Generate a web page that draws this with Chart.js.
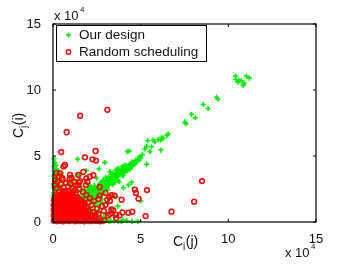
<!DOCTYPE html>
<html>
<head>
<meta charset="utf-8">
<script src="https://cdn.jsdelivr.net/npm/chart.js@4"></script>
<style>
  html, body { margin: 0; padding: 0; background: #fff; }
  #wrap { width: 341px; height: 266px; }
</style>
</head>
<body>
<div id="wrap"><canvas id="myChart" width="341" height="266"></canvas></div>
<script>
'use strict';

// values in units of 10^4
const seriesNames = [ 'Our design', 'Random scheduling' ];
const xTicks = [ 0, 5, 10, 15 ];
const yTicks = [ 0, 5, 10, 15 ];

const ourDesign = [
  [10.41,11.06],[11.03,11.06],[11.2,10.9],[10.43,10.8],[10.6,10.75],[10.75,10.7],[10.9,10.5],[10.85,10.35],[10.55,10.6],
  [9.33,9.45],[9.4,9.3],[8.57,8.9],[8.85,8.6],[7.9,8.16],[8.12,7.9],[7.52,7.58],[7.58,7.45],
  [6.57,6.67],[6.5,6.55],[6.28,6.34],[6.2,6.4],[6.15,6.2],[6.0,6.25],[6.15,5.45],[5.81,6.08],[5.4,6.16],
  [5.62,5.7],[5.24,5.53],[5.53,5.33],[5.34,5.73],[5.72,6.2],[4.35,5.38],[4.25,5.33],[5.1,5.1],[4.86,4.82],
  [4.95,4.95],[4.67,4.57],[4.5,4.55],[4.1,4.32],[5.34,4.37],[4.3,4.2],[4.4,4.0],[4.6,4.4],[3.72,4.07],
  [3.9,3.95],[4.1,3.9],[4.2,4.1],[3.8,3.7],[2.96,4.5],[2.62,4.02],[3.25,3.81],[3.72,3.69],[3.53,3.43],
  [3.6,3.6],[3.4,3.5],[3.3,3.3],[3.25,3.18],[3.1,3.2],[2.96,3.05],[3.0,2.9],[2.8,2.9],[2.49,3.31],
  [2.58,2.68],[2.7,2.6],[2.4,2.5],[2.5,2.3],[2.3,2.4],[2.2,2.2],[2.1,2.5],[2.0,2.0],[1.9,2.2],[1.8,1.8],
  [2.1,1.9],[3.76,3.05],[4.48,3.0],[4.01,2.6],[3.55,3.0],[3.35,2.95],[3.2,2.8],[3.05,2.6],[3.4,3.7],
  [3.6,3.9],[3.95,4.2],[4.0,4.0],[3.85,3.85],[3.5,3.3],[3.15,3.4],[2.85,3.15],[2.65,2.85],[2.75,3.0],
  [2.35,2.75],[2.2,2.6],[2.0,2.35],[1.7,2.0],[1.6,2.3],[1.4,4.77],[1.9,3.9],[1.5,3.5],[1.2,3.2],[1.1,2.9],
  [0.9,3.0],[4.3,2.8],[5.0,1.6],[3.6,1.9],[3.7,1.2],[4.83,0.05],[3.73,0.05],[2.7,0.1],[3.2,0.05],[2.9,0.4],
  [2.6,0.8],[2.4,1.2],[2.5,1.5],[2.8,1.7],[2.3,1.7],[2.6,2.0],[2.9,2.2],[3.1,1.4],[3.4,1.0],[3.0,0.6],
  [2.2,0.3],[4.2,0.1],[3.5,0.5],[2.1,2.78],[1.39,3.6],
  // dense band along the diagonal
  [1.2,1.3],[1.3,1.5],[1.4,1.2],[1.5,1.7],[1.6,1.5],[1.7,1.3],[1.75,1.65],[1.85,2.0],[1.9,1.6],[2.0,1.75],
  [2.05,2.15],[2.15,2.0],[2.2,1.8],[2.25,2.35],[2.3,2.1],[2.4,2.25],[2.45,1.95],[2.5,2.5],[2.55,2.15],
  [2.6,2.4],[2.65,2.55],[2.7,2.25],[2.75,2.75],[2.8,2.5],[2.85,2.7],[2.9,2.4],[2.95,2.85],[3.0,2.65],
  [3.05,3.0],[3.1,2.8],[3.15,3.05],[3.2,3.25],[3.25,2.95],[3.3,3.1],[3.35,3.4],[3.4,3.2],[3.45,3.35],
  [3.5,3.55],[3.55,3.25],[3.6,3.45],[3.65,3.7],[3.7,3.5],[3.75,3.8],[3.8,3.55],[3.85,3.7],[3.9,3.85],
  [3.95,3.6],[4.0,3.8],[4.05,4.05],[4.1,3.75],[4.15,3.95],[4.2,4.25],[4.25,3.9],[4.3,4.05],[4.35,4.3],
  [4.4,4.15],[4.45,4.4],[4.5,4.2],[4.55,4.5],[4.65,4.35],[4.7,4.65],[4.8,4.6],[4.9,4.7],[5.0,4.85],
  [3.0,3.35],[2.7,2.95],[2.4,2.65],[2.1,2.35],[1.8,2.1],[1.5,1.9],[3.35,3.6],[3.6,3.95],[2.2,1.55],
  [2.5,1.8],[2.8,2.1],[3.1,2.45],[3.4,2.85],[3.7,3.2],[4.0,3.5],
  [1.0,1.6],[1.2,2.0],[1.4,2.4],[1.6,2.7],[1.8,2.45],[2.0,2.7],[1.3,1.8],[1.6,1.0],[1.9,1.2],[2.1,1.0],
  [2.3,1.4],[2.6,1.2],[2.4,0.9],[2.7,1.5],[2.0,0.7],[2.8,0.3],[3.0,0.2],[2.5,0.2],[3.5,0.1],[4.0,0.15],[4.5,0.05],
  // along the axes
  [0.05,4.8],[0.1,4.5],[0.05,4.2],[0.1,3.9],[0.15,3.7],[0.05,3.5],[0.2,3.3],[0.1,3.1],[0.05,2.9],
  [0.2,2.7],[0.1,2.5],[0.3,2.6],[0.3,3.9],[0.5,3.7],[0.15,4.3],[0.2,4.0],[0.1,3.6],[0.25,3.5],[0.15,3.3],
  [0.3,3.1],[0.2,2.9],[0.35,2.8],[0.05,2.6],[0.15,2.4],[0.05,2.2],[0.02,2.0],[0.02,1.6],[0.02,1.2],
  [1.5,0.02],[2.0,0.02],[2.4,0.05],[2.9,0.02],[3.3,0.08],[3.9,0.05]
];

const randomScheduling = [
  // dense cluster near the origin
  [0.05,0.1],[0.22,0.06],[0.4,0.1],[0.57,0.05],[0.75,0.1],[0.92,0.07],[1.1,0.12],[1.27,0.05],[1.45,0.1],
  [1.62,0.08],[1.8,0.05],[1.97,0.12],[2.15,0.06],[2.32,0.1],[2.5,0.08],[2.7,0.05],[2.92,0.12],
  [0.12,0.3],[0.3,0.27],[0.48,0.32],[0.66,0.25],[0.84,0.3],[1.0,0.28],[1.18,0.33],[1.36,0.26],[1.54,0.3],
  [1.72,0.28],[1.9,0.32],[2.08,0.27],[2.26,0.3],[2.45,0.34],[2.62,0.28],
  [0.04,0.5],[0.21,0.47],[0.39,0.52],[0.57,0.46],[0.75,0.5],[0.93,0.48],[1.11,0.53],[1.29,0.47],[1.47,0.5],
  [1.65,0.46],[1.83,0.52],[2.0,0.49],[2.2,0.45],[2.42,0.55],
  [0.12,0.7],[0.3,0.67],[0.48,0.72],[0.66,0.66],[0.84,0.7],[1.02,0.68],[1.2,0.73],[1.38,0.66],[1.56,0.7],
  [1.74,0.69],[1.92,0.72],[2.12,0.66],[2.3,0.75],
  [0.04,0.9],[0.21,0.87],[0.39,0.92],[0.57,0.86],[0.75,0.9],[0.93,0.88],[1.11,0.93],[1.29,0.87],[1.47,0.9],
  [1.65,0.86],[1.83,0.92],[2.02,0.88],
  [0.12,1.1],[0.3,1.07],[0.48,1.12],[0.66,1.06],[0.84,1.1],[1.02,1.08],[1.2,1.13],[1.38,1.06],[1.56,1.1],
  [1.74,1.08],[1.93,1.12],
  [0.04,1.3],[0.21,1.27],[0.39,1.32],[0.57,1.26],[0.75,1.3],[0.93,1.28],[1.11,1.33],[1.29,1.27],[1.47,1.3],
  [1.65,1.26],[1.82,1.32],
  [0.12,1.5],[0.3,1.47],[0.48,1.52],[0.66,1.46],[0.84,1.5],[1.02,1.48],[1.2,1.53],[1.38,1.46],[1.56,1.5],[1.72,1.49],
  [0.06,1.7],[0.23,1.67],[0.4,1.72],[0.58,1.66],[0.76,1.7],[0.94,1.68],[1.12,1.73],[1.3,1.67],[1.48,1.7],[1.62,1.66],
  [0.14,1.9],[0.32,1.87],[0.5,1.92],[0.68,1.86],[0.86,1.9],[1.04,1.88],[1.22,1.93],[1.4,1.87],
  [0.22,2.1],[0.4,2.07],[0.58,2.12],[0.76,2.06],[0.94,2.1],[1.12,2.08],[1.3,2.12],
  [0.35,2.3],[0.55,2.35],[0.72,2.28],[0.9,2.33],[1.08,2.27],[1.25,2.4],
  [0.2,2.55],[0.6,2.6],[0.85,2.7],[1.15,2.55],[1.5,2.5],[0.1,2.8],[0.45,2.85],[0.75,2.95],[1.0,2.9],
  [1.3,2.75],[1.7,2.3],[1.9,2.05],[2.1,1.8],[0.25,3.05],[0.55,3.2],[0.95,3.25],[1.2,3.05],[1.55,3.1],[0.11,3.18],
  // scattered points
  [3.1,8.5],[1.55,8.05],[0.78,6.8],[0.47,5.3],[2.43,5.38],[1.82,4.9],[2.26,4.75],[2.45,4.65],[0.68,4.32],
  [0.6,4.2],[0.2,3.7],[0.4,3.7],[0.97,3.56],[1.44,3.56],[1.73,3.8],[2.1,3.43],[2.3,3.55],[1.05,3.36],
  [0.52,3.35],[0.35,3.45],[1.9,3.3],[1.96,3.05],[1.47,3.0],[1.43,2.8],[1.88,2.8],[2.66,2.65],[2.66,2.0],
  [2.99,2.2],[3.2,1.9],[3.25,1.6],[3.1,1.7],[2.33,1.6],[2.6,1.75],[3.51,2.0],[3.91,1.69],[4.67,2.45],
  [4.73,2.2],[4.88,1.77],[5.36,2.42],[8.5,3.1],[8.05,1.54],[6.76,0.78],[5.28,0.45],[4.52,0.78],[3.96,0.72],
  [3.33,0.95],[2.9,0.85],[3.15,0.5],[3.6,0.3],[2.8,1.2],[3.0,1.3],[2.5,1.0],[2.6,0.6],[2.2,1.3],[2.05,1.5],
  [3.8,0.5],[4.3,0.7],[3.6,0.55],[3.44,0.9],[3.25,0.6],[3.34,2.04]
];

const font = '"Liberation Sans", Arial, Helvetica, sans-serif';

function toPoints( arr ) {
  return arr.map( p => ( { x: p[0], y: p[1] } ) );
}

// frame, inward ticks, exponent labels, axis titles, legend
const decor = {
  id: 'decor',
  afterDraw( chart ) {
    const ctx = chart.ctx;
    const a = chart.chartArea;
    const xs = chart.scales.x;
    const ys = chart.scales.y;
    ctx.save();
    ctx.strokeStyle = '#000';
    ctx.lineWidth = 1.2;
    ctx.strokeRect( a.left, a.top, a.right - a.left, a.bottom - a.top );
    ctx.lineWidth = 1;
    ctx.beginPath();
    for ( let i = 0; i < xTicks.length; i++ ) {
      let px = xs.getPixelForValue( xTicks[i] );
      ctx.moveTo( px, a.bottom ); ctx.lineTo( px, a.bottom - 3 );
      ctx.moveTo( px, a.top ); ctx.lineTo( px, a.top + 3 );
    }
    for ( let i = 0; i < yTicks.length; i++ ) {
      let py = ys.getPixelForValue( yTicks[i] );
      ctx.moveTo( a.left, py ); ctx.lineTo( a.left + 3, py );
      ctx.moveTo( a.right, py ); ctx.lineTo( a.right - 3, py );
    }
    ctx.stroke();

    ctx.fillStyle = '#111';
    ctx.textBaseline = 'alphabetic';
    ctx.textAlign = 'left';
    // exponent labels
    ctx.font = '13px ' + font;
    ctx.fillText( 'x 10', 54, 20 );
    ctx.fillText( 'x 10', 285, 257 );
    ctx.font = '8px ' + font;
    ctx.fillText( '4', 80, 12 );
    ctx.fillText( '4', 311, 249 );

    // x title C_i(j)
    let tx = 173;
    ctx.font = '14px ' + font;
    ctx.fillText( 'C', tx, 246 );
    tx += ctx.measureText( 'C' ).width;
    ctx.font = '10px ' + font;
    ctx.fillText( 'i', tx, 250 );
    tx += ctx.measureText( 'i' ).width + 0.5;
    ctx.font = '14px ' + font;
    ctx.fillText( '(j)', tx, 246 );

    // y title C_j(i)
    ctx.translate( 23, 138 );
    ctx.rotate( -Math.PI / 2 );
    let ty = 0;
    ctx.fillText( 'C', ty, 0 );
    ty += ctx.measureText( 'C' ).width;
    ctx.font = '10px ' + font;
    ctx.fillText( 'j', ty, 4 );
    ty += ctx.measureText( 'j' ).width + 0.5;
    ctx.font = '14px ' + font;
    ctx.fillText( '(i)', ty, 0 );
    ctx.setTransform( 1, 0, 0, 1, 0, 0 );

    // legend
    ctx.fillStyle = '#fff';
    ctx.fillRect( 56, 25, 150, 36 );
    ctx.strokeStyle = '#000';
    ctx.lineWidth = 1;
    ctx.strokeRect( 56.5, 25.5, 150, 36 );
    ctx.strokeStyle = '#00ee00';
    ctx.lineWidth = 1.5;
    ctx.beginPath();
    ctx.moveTo( 66, 35 ); ctx.lineTo( 71, 35 );
    ctx.moveTo( 68.5, 32.5 ); ctx.lineTo( 68.5, 37.5 );
    ctx.stroke();
    ctx.strokeStyle = '#ff0000';
    ctx.lineWidth = 1.4;
    ctx.beginPath();
    ctx.arc( 68.5, 52, 2.2, 0, Math.PI * 2 );
    ctx.stroke();
    ctx.fillStyle = '#111';
    ctx.font = '13.5px ' + font;
    ctx.textBaseline = 'middle';
    ctx.fillText( seriesNames[0], 79, 35 );
    ctx.fillText( seriesNames[1], 79, 52.5 );
    ctx.restore();
  }
};

let ctx = document.getElementById( 'myChart' ).getContext( '2d' );
let myChart = new Chart( ctx, {
  type: 'scatter',
  data: {
    datasets: [{
      label: seriesNames[0],
      data: toPoints( ourDesign ),
      pointStyle: 'cross',
      pointRadius: 2.6,
      borderColor: '#00ee00',
      backgroundColor: '#00ee00',
      pointBorderWidth: 1.6,
      clip: false,
      order: 1
    }, {
      label: seriesNames[1],
      data: toPoints( randomScheduling ),
      pointStyle: 'circle',
      pointRadius: 2.4,
      borderColor: '#ff0000',
      backgroundColor: 'rgba(0,0,0,0)',
      pointBorderWidth: 1.5,
      clip: false,
      order: 0
    }]
  },
  options: {
    responsive: false,
    animation: false,
    events: [],
    layout: { padding: { left: 0, top: 24, right: 25, bottom: 0 } },
    plugins: {
      legend: { display: false },
      tooltip: { enabled: false }
    },
    scales: {
      x: {
        type: 'linear',
        min: 0,
        max: 15,
        afterFit: s => { s.height = 44; },
        afterBuildTicks: s => { s.ticks = xTicks.map( v => ( { value: v } ) ); },
        grid: { display: false },
        border: { display: false },
        ticks: { padding: 2, color: '#111', font: { family: font, size: 13 } }
      },
      y: {
        type: 'linear',
        min: 0,
        max: 15,
        afterFit: s => { s.width = 53; },
        afterBuildTicks: s => { s.ticks = yTicks.map( v => ( { value: v } ) ); },
        grid: { display: false },
        border: { display: false },
        ticks: { padding: 4, color: '#111', font: { family: font, size: 13 } }
      }
    }
  },
  plugins: [ decor ]
} );
</script>
</body>
</html>
